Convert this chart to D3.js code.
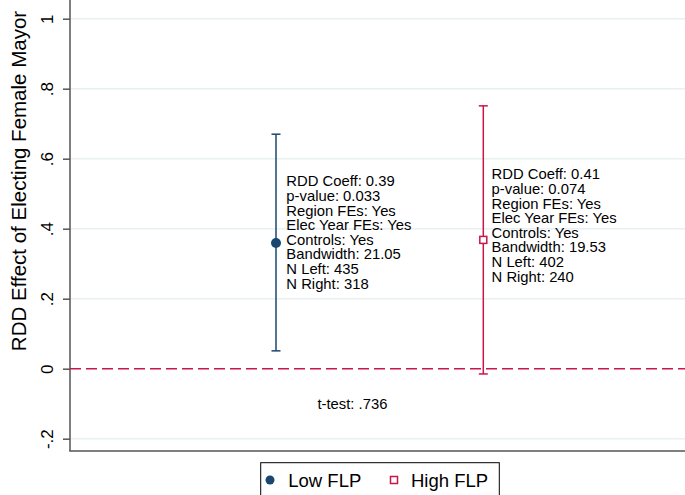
<!DOCTYPE html>
<html><head><meta charset="utf-8">
<script src="https://cdn.jsdelivr.net/npm/d3@7"></script>
<style>body{margin:0;background:#fff}svg{display:block;font-family:"Liberation Sans",Arial,Helvetica,sans-serif}</style>
</head><body><div id="chart"></div>
<script>
const groups = ["Low FLP", "High FLP"];
const xPos = [1, 2];
const estimates = [0.359, 0.368];
const ciLow = [0.051, -0.015];
const ciHigh = [0.67, 0.751];
const colors = ["#1a476f", "#c8174a"];
const labelX = [1.05, 2.04];
const labelY = [0.39, 0.41];
const labelLines = [
  ["RDD Coeff: 0.39","p-value: 0.033","Region FEs: Yes","Elec Year FEs: Yes","Controls: Yes","Bandwidth: 21.05","N Left: 435","N Right: 318"],
  ["RDD Coeff: 0.41","p-value: 0.074","Region FEs: Yes","Elec Year FEs: Yes","Controls: Yes","Bandwidth: 19.53","N Left: 402","N Right: 240"]
];
const yTicks = [-0.2, 0, 0.2, 0.4, 0.6, 0.8, 1];
const yTickLabels = ["-.2", "0", ".2", ".4", ".6", ".8", "1"];
const tTest = {x: 1.2, y: -0.1, text: "t-test: .736"};
const yTitle = "RDD Effect of Electing Female Mayor";

(function(){
const W = 685, H = 495;
const svg = d3.select("#chart").append("svg").attr("width", W).attr("height", H);
const pL = 70, pR = 685, pT = 0, pB = 451;
const y = d3.scaleLinear().domain([0, 1]).range([368.7, 18.7]);
const x = d3.scaleLinear().domain([1, 2]).range([276, 483.3]);
const fsAnn = 14.8;

// gridlines
svg.append("g").selectAll("line").data(yTicks.filter(d => d !== 0)).join("line")
  .attr("x1", pL).attr("x2", pR).attr("y1", d => y(d)).attr("y2", d => y(d))
  .attr("stroke", "#e8f0f2").attr("stroke-width", 1.5);

// y axis
const yAxis = d3.axisLeft(y).tickValues(yTicks).tickFormat((d, i) => yTickLabels[i]).tickSize(7);
const ga = svg.append("g").attr("transform", `translate(${pL},0)`).call(yAxis);
ga.select(".domain").remove();
ga.selectAll(".tick line").attr("stroke", "#555").attr("stroke-width", 1.5);
ga.selectAll(".tick text").attr("font-size", 17).attr("fill", "#000")
  .attr("font-family", "Liberation Sans, Arial, sans-serif")
  .attr("transform", "rotate(-90)").attr("x", 0).attr("y", -16.7).attr("dy", 0)
  .attr("text-anchor", "middle");
svg.append("line").attr("x1", pL).attr("x2", pL).attr("y1", pT).attr("y2", pB)
  .attr("stroke", "#555").attr("stroke-width", 1.5);
svg.append("line").attr("x1", pL - 0.75).attr("x2", pR).attr("y1", pB).attr("y2", pB)
  .attr("stroke", "#555").attr("stroke-width", 1.5);

// y title
svg.append("text").attr("transform", `translate(26,181) rotate(-90)`).attr("text-anchor", "middle")
  .attr("font-size", 20.5).text(yTitle);

// zero dashed line
svg.append("line").attr("x1", pL).attr("x2", pR).attr("y1", y(0)).attr("y2", y(0))
  .attr("stroke", "#c8174a").attr("stroke-width", 1.5).attr("stroke-dasharray", "11,5");

// error bars
groups.forEach((g, i) => {
  const gg = svg.append("g");
  const cx = x(xPos[i]);
  gg.append("line").attr("x1", cx).attr("x2", cx).attr("y1", y(ciLow[i])).attr("y2", y(ciHigh[i]))
    .attr("stroke", colors[i]).attr("stroke-width", 1.5);
  [ciLow[i], ciHigh[i]].forEach(v => {
    gg.append("line").attr("x1", cx - 4.5).attr("x2", cx + 4.5).attr("y1", y(v)).attr("y2", y(v))
      .attr("stroke", colors[i]).attr("stroke-width", 1.5);
  });
  if (i === 0) {
    gg.append("circle").attr("cx", cx).attr("cy", y(estimates[i])).attr("r", 5).attr("fill", colors[i]);
  } else {
    gg.append("rect").attr("x", cx - 3.5).attr("y", y(estimates[i]) - 3.5).attr("width", 7).attr("height", 7)
      .attr("fill", "#fff").attr("stroke", colors[i]).attr("stroke-width", 1.5);
  }
  const lh = 14.66;
  const n = labelLines[i].length;
  const firstBase = y(labelY[i]) + 0.358 * fsAnn - lh * (n - 1) / 2;
  const t = svg.append("text").attr("font-size", fsAnn).attr("fill", "#000");
  labelLines[i].forEach((s, k) => {
    t.append("tspan").attr("x", x(labelX[i])).attr("y", firstBase + k * lh).text(s);
  });
});

// t-test
svg.append("text").attr("x", x(tTest.x)).attr("y", y(tTest.y) + 0.358 * fsAnn)
  .attr("font-size", fsAnn).text(tTest.text);

// legend
const lg = svg.append("g");
lg.append("rect").attr("x", 260.7).attr("y", 462.7).attr("width", 238.6).attr("height", 40)
  .attr("fill", "#fff").attr("stroke", "#000").attr("stroke-width", 1);
lg.append("circle").attr("cx", 270).attr("cy", 480).attr("r", 4.5).attr("fill", colors[0]);
lg.append("text").attr("x", 288.3).attr("y", 486.7).attr("font-size", 18.5).text(groups[0]);
lg.append("rect").attr("x", 390.5).attr("y", 476.5).attr("width", 7).attr("height", 7)
  .attr("fill", "#fff").attr("stroke", colors[1]).attr("stroke-width", 1.5);
lg.append("text").attr("x", 411).attr("y", 486.7).attr("font-size", 18.5).text(groups[1]);
})();
</script></body></html>
